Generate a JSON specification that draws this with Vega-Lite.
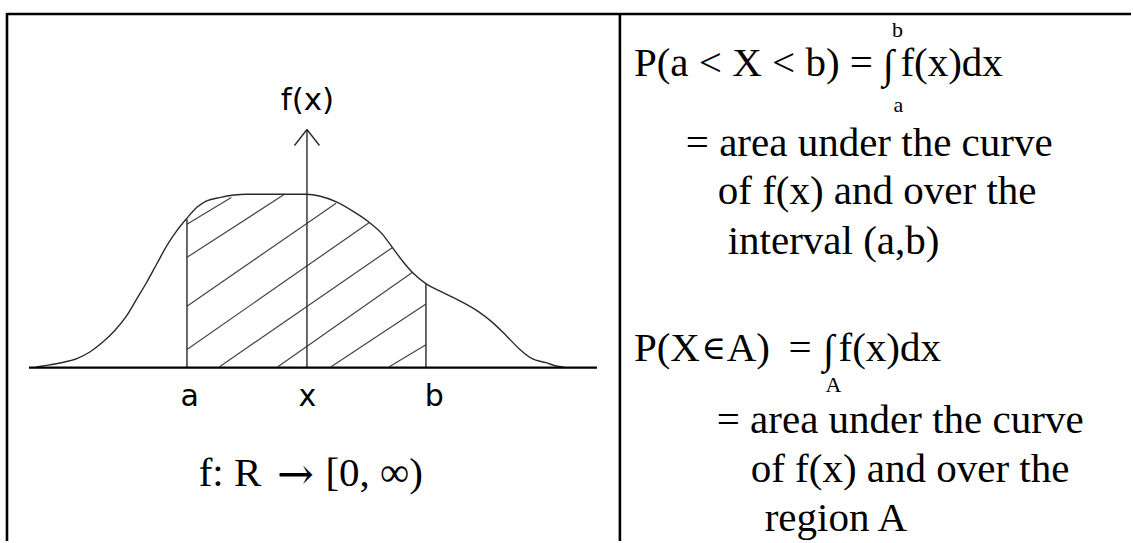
{
  "$schema": "https://vega.github.io/schema/vega-lite/v6.json",
  "width": 1133,
  "height": 543,
  "padding": 0,
  "autosize": {"type": "fit", "contains": "padding"},
  "background": "white",
  "config": {"view": {"stroke": null}},
  "datasets": {
    "frame": [
      {"x": 7, "y": 14, "x2": 1133, "y2": 14},
      {"x": 7, "y": 13, "x2": 7, "y2": 543},
      {"x": 621, "y": 13, "x2": 621, "y2": 543}
    ],
    "baseline": [
      {"x": 29, "y": 369, "x2": 598, "y2": 369}
    ],
    "verticals": [
      {"x": 187.3, "y": 369, "x2": 187.3, "y2": 220},
      {"x": 307.5, "y": 369, "x2": 307.5, "y2": 130},
      {"x": 426.7, "y": 369, "x2": 426.7, "y2": 285},
      {"x": 295, "y": 146, "x2": 307.5, "y2": 130},
      {"x": 320, "y": 146, "x2": 307.5, "y2": 130}
    ],
    "hatch": [
      {"x": 187.3, "y": 225, "x2": 231.7, "y2": 198.3},
      {"x": 187.3, "y": 258.3, "x2": 285, "y2": 195},
      {"x": 187.3, "y": 307.3, "x2": 336.7, "y2": 204},
      {"x": 187.3, "y": 350.7, "x2": 370, "y2": 223.3},
      {"x": 220, "y": 368, "x2": 393.3, "y2": 248.3},
      {"x": 278.3, "y": 368, "x2": 413.3, "y2": 273.3},
      {"x": 331.7, "y": 368, "x2": 426.7, "y2": 305},
      {"x": 390, "y": 368, "x2": 426.7, "y2": 346}
    ],
    "curve": [
      {"x": 36, "y": 368.5}, {"x": 43, "y": 367.3}, {"x": 60, "y": 364.3},
      {"x": 77, "y": 360}, {"x": 90, "y": 353.3}, {"x": 103, "y": 343.3},
      {"x": 115, "y": 331.7}, {"x": 127, "y": 316.7}, {"x": 137, "y": 300},
      {"x": 147, "y": 283.3}, {"x": 157, "y": 265}, {"x": 167, "y": 246.7},
      {"x": 177, "y": 231.7}, {"x": 187, "y": 219.3}, {"x": 197, "y": 208.3},
      {"x": 207, "y": 201.7}, {"x": 220, "y": 198.3}, {"x": 247, "y": 195},
      {"x": 307, "y": 195}, {"x": 320, "y": 196.7}, {"x": 337, "y": 202.7},
      {"x": 353, "y": 211.7}, {"x": 370, "y": 223.3}, {"x": 383, "y": 235},
      {"x": 393, "y": 248.3}, {"x": 403, "y": 261.7}, {"x": 413, "y": 273.3},
      {"x": 427, "y": 285}, {"x": 443, "y": 293.3}, {"x": 460, "y": 301.7},
      {"x": 480, "y": 313.3}, {"x": 493, "y": 323.3}, {"x": 507, "y": 336.7},
      {"x": 520, "y": 350}, {"x": 533, "y": 360}, {"x": 547, "y": 364},
      {"x": 557, "y": 367.3}, {"x": 565, "y": 368.5}
    ],
    "sansLabels": [
      {"x": 190, "y": 407, "label": "a"},
      {"x": 308, "y": 407, "label": "x"},
      {"x": 435, "y": 407, "label": "b"}
    ],
    "fxLabel": [
      {"x": 308, "y": 110, "label": "f(x)"}
    ],
    "serifMain": [
      {"x": 199, "y": 488, "label": "f: R"},
      {"x": 326, "y": 488, "label": "[0, ∞)"},
      {"x": 635, "y": 76, "label": "P(a < X < b) ="},
      {"x": 902, "y": 76, "label": "f(x)dx"},
      {"x": 687, "y": 157, "label": "= area under the curve"},
      {"x": 719, "y": 205, "label": "of f(x) and over the"},
      {"x": 729, "y": 255, "label": "interval (a,b)"},
      {"x": 635, "y": 362, "label": "P(X"},
      {"x": 728, "y": 362, "label": "A)"},
      {"x": 790, "y": 362, "label": "="},
      {"x": 840, "y": 362, "label": "f(x)dx"},
      {"x": 718, "y": 435, "label": "= area under the curve"},
      {"x": 752, "y": 484, "label": "of f(x) and over the"},
      {"x": 766, "y": 533, "label": "region A"}
    ],
    "integralSign": [
      {"x": 890, "y": 78, "label": "∫"},
      {"x": 830, "y": 364, "label": "∫"}
    ],
    "elementSign": [
      {"x": 715, "y": 360, "label": "∈"}
    ],
    "arrowSign": [
      {"x": 296, "y": 491, "label": "→"}
    ],
    "serifSmall": [
      {"x": 899, "y": 37, "label": "b"},
      {"x": 900, "y": 112, "label": "a"},
      {"x": 835, "y": 393, "label": "A"}
    ]
  },
  "layer": [
    {
      "data": {"name": "hatch"},
      "mark": {"type": "rule", "stroke": "#444444", "strokeWidth": 1.2},
      "encoding": {
        "x": {"field": "x", "type": "quantitative", "scale": {"domain": [0, 1133], "nice": false, "zero": false}, "axis": null},
        "y": {"field": "y", "type": "quantitative", "scale": {"domain": [0, 543], "nice": false, "zero": false, "reverse": true}, "axis": null},
        "x2": {"field": "x2"},
        "y2": {"field": "y2"}
      }
    },
    {
      "data": {"name": "curve"},
      "mark": {"type": "line", "stroke": "#2a2a2a", "strokeWidth": 1.4, "interpolate": "monotone"},
      "encoding": {
        "x": {"field": "x", "type": "quantitative", "axis": null},
        "y": {"field": "y", "type": "quantitative", "axis": null}
      }
    },
    {
      "data": {"name": "verticals"},
      "mark": {"type": "rule", "stroke": "#2a2a2a", "strokeWidth": 1.4},
      "encoding": {
        "x": {"field": "x", "type": "quantitative", "axis": null},
        "y": {"field": "y", "type": "quantitative", "axis": null},
        "x2": {"field": "x2"},
        "y2": {"field": "y2"}
      }
    },
    {
      "data": {"name": "baseline"},
      "mark": {"type": "rule", "stroke": "#000000", "strokeWidth": 2.2},
      "encoding": {
        "x": {"field": "x", "type": "quantitative", "axis": null},
        "y": {"field": "y", "type": "quantitative", "axis": null},
        "x2": {"field": "x2"},
        "y2": {"field": "y2"}
      }
    },
    {
      "data": {"name": "frame"},
      "mark": {"type": "rule", "stroke": "#000000", "strokeWidth": 2.6},
      "encoding": {
        "x": {"field": "x", "type": "quantitative", "axis": null},
        "y": {"field": "y", "type": "quantitative", "axis": null},
        "x2": {"field": "x2"},
        "y2": {"field": "y2"}
      }
    },
    {
      "data": {"name": "sansLabels"},
      "mark": {"type": "text", "font": "DejaVu Sans", "fontSize": 30, "align": "center", "baseline": "alphabetic", "color": "#000000"},
      "encoding": {
        "x": {"field": "x", "type": "quantitative", "axis": null},
        "y": {"field": "y", "type": "quantitative", "axis": null},
        "text": {"field": "label"}
      }
    },
    {
      "data": {"name": "fxLabel"},
      "mark": {"type": "text", "font": "DejaVu Sans", "fontSize": 31, "align": "center", "baseline": "alphabetic", "color": "#000000"},
      "encoding": {
        "x": {"field": "x", "type": "quantitative", "axis": null},
        "y": {"field": "y", "type": "quantitative", "axis": null},
        "text": {"field": "label"}
      }
    },
    {
      "data": {"name": "serifMain"},
      "mark": {"type": "text", "font": "Liberation Serif", "fontSize": 41, "align": "left", "baseline": "alphabetic", "color": "#000000"},
      "encoding": {
        "x": {"field": "x", "type": "quantitative", "axis": null},
        "y": {"field": "y", "type": "quantitative", "axis": null},
        "text": {"field": "label"}
      }
    },
    {
      "data": {"name": "integralSign"},
      "mark": {"type": "text", "font": "Liberation Serif", "fontSize": 41, "align": "center", "baseline": "alphabetic", "color": "#000000"},
      "encoding": {
        "x": {"field": "x", "type": "quantitative", "axis": null},
        "y": {"field": "y", "type": "quantitative", "axis": null},
        "text": {"field": "label"}
      }
    },
    {
      "data": {"name": "elementSign"},
      "mark": {"type": "text", "font": "DejaVu Serif", "fontSize": 33, "align": "center", "baseline": "alphabetic", "color": "#000000"},
      "encoding": {
        "x": {"field": "x", "type": "quantitative", "axis": null},
        "y": {"field": "y", "type": "quantitative", "axis": null},
        "text": {"field": "label"}
      }
    },
    {
      "data": {"name": "arrowSign"},
      "mark": {"type": "text", "font": "DejaVu Serif", "fontSize": 44, "align": "center", "baseline": "alphabetic", "color": "#000000"},
      "encoding": {
        "x": {"field": "x", "type": "quantitative", "axis": null},
        "y": {"field": "y", "type": "quantitative", "axis": null},
        "text": {"field": "label"}
      }
    },
    {
      "data": {"name": "serifSmall"},
      "mark": {"type": "text", "font": "Liberation Serif", "fontSize": 22, "align": "center", "baseline": "alphabetic", "color": "#000000"},
      "encoding": {
        "x": {"field": "x", "type": "quantitative", "axis": null},
        "y": {"field": "y", "type": "quantitative", "axis": null},
        "text": {"field": "label"}
      }
    }
  ]
}
